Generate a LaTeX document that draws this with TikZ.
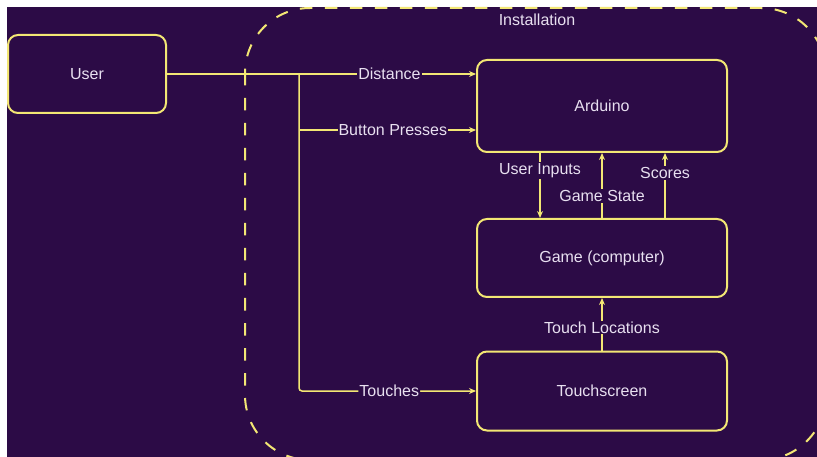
\documentclass[tikz,border=0pt]{standalone}
\usepackage{fontspec}
\setmainfont{Liberation Sans}
\usetikzlibrary{arrows.meta}
\definecolor{bgpurple}{HTML}{2C0B46}
\definecolor{lineyellow}{HTML}{F3E774}
\definecolor{textlav}{HTML}{E8E0F0}

\begin{document}
\begin{tikzpicture}[x=1pt, y=-1pt,
    box/.style={draw=lineyellow, line width=2pt, rounded corners=10pt, fill=bgpurple,
      text=textlav, font=\fontsize{16}{19}\selectfont, minimum width=250pt, anchor=center},
    lbl/.style={fill=bgpurple, text=textlav, inner sep=1pt, font=\fontsize{16}{19}\selectfont},
    arr/.style={draw=lineyellow, line width=1.5pt, -{Stealth[length=7pt, width=6pt]}},
    link/.style={draw=lineyellow, line width=1.5pt}]
    \useasboundingbox (0,0) rectangle (817,457);
    \fill[white] (0,0) rectangle (817,457);
    \fill[bgpurple] (7,7) rectangle (817,457);
    \begin{scope}
      \clip (7,7) rectangle (817,457);
      \draw[lineyellow, line width=2pt, dash pattern=on 12.5pt off 12.5pt, rounded corners=65pt]
        (245,8) rectangle (826,460);
    \end{scope}
    \node[text=textlav, font=\fontsize{16}{19}\selectfont] (install) at (537,20) {Installation};

    \node[box, minimum width=158pt, minimum height=78pt] (user) at (87,74) {User};
    \node[box, minimum height=92pt] (arduino) at (602,106) {Arduino};
    \node[box, minimum height=78pt] (game) at (602,258) {Game (computer)};
    \node[box, minimum height=79pt] (touch) at (602,391) {Touchscreen};

    \coordinate (split) at (299,74);
    \coordinate (btn) at (299,130);
    \draw[arr] (user.east) -- (user.east -| arduino.west) node[lbl, pos=0.72] {Distance};
    \draw[arr] (btn) -- (btn -| arduino.west) node[lbl, pos=0.53] {Button Presses};
    \draw[arr, rounded corners=3pt] (split) |- (touch.west) node[lbl, pos=0.755] {Touches};

    \draw[arr] ([xshift=-62pt]arduino.south) -- ([xshift=-62pt]game.north) node[lbl, pos=0.27] {User Inputs};
    \draw[arr] (game.north) -- (arduino.south) node[lbl, pos=0.34] {Game State};
    \draw[arr] ([xshift=63pt]game.north) -- ([xshift=63pt]arduino.south) node[lbl, pos=0.69] {Scores};
    \draw[arr] (touch.north) -- (game.south) node[lbl, pos=0.44] {Touch Locations};
\end{tikzpicture}
\end{document}
